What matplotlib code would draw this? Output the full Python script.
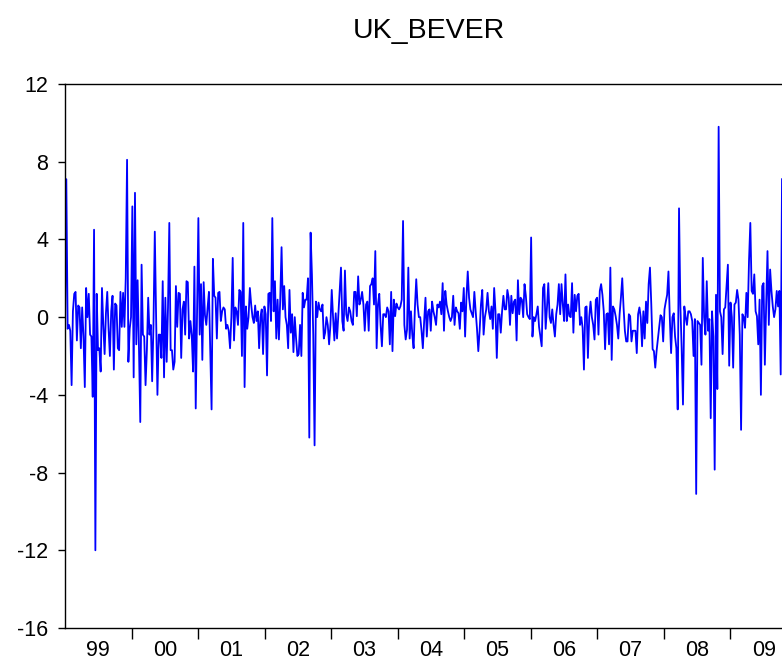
import matplotlib.pyplot as plt
import numpy as np

# weekly UK_BEVER series, Jan 1999 - Oct 2009
uk_bever = [
    -0.5, 7.1, -0.6, -0.4, -0.7, -3.5, 0.3, 1.2, 1.3, -1.2,
    0.6, 0.5, -1.6, 0.5, -1.0, -3.6, 1.5, 0.0, 1.2, -0.9,
    -1.0, -4.1, 4.5, -12.0, 1.2, -1.7, -1.6, -2.8, 1.5, -0.4,
    -1.9, 0.2, 1.3, -0.6, -2.0, 0.3, 1.1, -2.7, 0.7, 0.6,
    -1.6, -1.7, 1.3, -0.5,
    1.25, -0.5, 2.0, 8.1, -2.3, -0.6, 0.0, 5.7, -3.1, 6.4,
    -1.4, 1.9, -1.5, -5.4, 2.7, -0.9, -1.0, -3.5, -1.7, 1.0,
    -0.9, -0.4, -3.3, -0.4, 4.4, 0.0, -4.0, -0.9, -0.9, -2.1,
    1.85, -3.1, 1.0, -2.3, 0.5, 4.85, -1.7, -1.7, -2.7, -2.3,
    1.6, -0.5, 1.25, 1.2, -2.1, 0.4,
    0.8, -0.9, 1.85, 1.8, -1.1, -0.2, -0.95, -2.8, 2.6, -4.7,
    0.1, 5.1, -0.9, 1.7, -2.2, 1.8, 0.1, -0.4, 0.5, 1.3,
    -1.7, -4.75, 3.0, 1.1, 1.0, -1.1, 1.25, 1.3, -0.2, 0.3,
    0.5, 0.4, -0.6, -0.4, -0.7, -1.6, 0.0, 3.05, -1.2, 0.5,
    0.3, -0.4, 1.4, 1.3, -2.0,
    4.85, -3.6, 0.55, -0.6, 0.0, 1.5, 0.65, 0.0, -0.3, 0.6,
    -0.2, 0.3, -1.6, 0.0, 0.4, -1.9, 0.55, 0.15, -3.0, 1.2,
    1.25, -0.2, 5.1, 0.3, 1.85, -1.1, 0.9, -1.15, 0.9, 3.6,
    0.4, 1.6, 0.0, -0.4, -1.6, 1.4, -0.8, 0.15, -1.8, 0.0,
    -1.1, -2.0, -1.9, -0.4, -2.0,
    1.25, 0.5, 0.9, 0.9, 2.0, -6.2, 4.35, 2.2, -0.9, -6.6,
    0.8, 0.0, 0.75, 0.4, 0.3, 0.65, -1.1, -0.8, 0.0, -0.4,
    -1.4, -0.4, 1.4, 0.0, -1.2, 0.2, -1.1, 0.15, 1.3, 2.55,
    -0.2, -0.7, 2.4, 0.15, -0.2, 0.5, 0.3, -0.2, -0.4, 1.3,
    1.3, 0.05, 2.1, 0.65, 0.9, 1.3,
    0.65, -0.7, 0.65, 0.8, -0.7, 1.6, 1.7, 2.0, 0.65, 3.4,
    -1.6, 0.65, 1.2, -0.4, -1.5, 0.15, 0.15, 0.0, 0.5, 0.3,
    -1.4, 1.3, -1.75, 0.9, 0.05, 0.7, 0.5, 0.4, 0.55, 0.9,
    4.95, -0.4, -1.15, -0.65, 2.55, -1.1, 0.3, -0.9, -1.6, 0.5,
    1.95, 0.65, 0.0, 0.0, -0.7,
    -1.6, -0.2, 1.0, -1.0, 0.3, 0.4, -0.7, 0.8, 0.3, 0.0,
    -0.4, 0.65, 0.5, 0.8, 0.15, 1.75, -0.7, 1.35, 0.65, 0.3,
    0.0, -0.2, 0.0, 1.1, -0.4, 0.5, 0.3, 0.2, -0.6, 0.75,
    0.3, 1.5, -1.0, 1.0, 2.35, 1.0, 0.4, 0.2, 0.0, 1.3,
    0.3, -0.6, -1.75, -0.7, 0.65,
    1.4, -0.9, 0.0, 0.4, 1.25, 0.3, -0.1, 0.55, -0.6, 1.5,
    0.3, -2.1, 0.15, 0.15, -0.8, 0.3, 1.1, 0.4, 0.4, 1.4,
    1.0, -0.4, 1.1, 0.2, 0.8, 0.9, -1.2, 1.9, 0.15, 1.0,
    0.9, 0.0, 1.7, 1.1, 0.15, 0.0, -0.1, 4.1, -1.0, 0.0,
    -0.2, 0.15, 0.55, -0.5, -1.0,
    -1.5, 1.5, 1.7, -0.6, 0.5, 1.75, 0.0, -0.3, 0.4, -0.4,
    -1.0, 0.15, 0.65, 1.7, 0.15, 1.7, 0.65, -0.2, 2.2, -0.2,
    0.65, 0.05, 0.0, 1.75, -0.8, 1.15, 0.3, 1.1, 1.2, -0.4,
    0.0, -0.55, -2.7, 0.5, 0.55, -2.1, 0.0, 0.8, 0.0, -0.4,
    -1.15, 0.9, 1.0, -0.9, 1.35,
    1.7, 1.15, 0.3, -1.65, 0.15, 0.2, -1.4, 2.55, -2.2, 0.55,
    0.4, 0.05, -0.4, -1.1, 0.15, 1.0, 2.0, 0.5, -0.7, -1.25,
    -1.25, 0.15, 0.05, -1.25, -0.7, -0.7, -0.7, -1.85, 0.15, 0.5,
    0.0, -1.5, 0.3, -1.1, 0.8, -0.3, 1.7, 2.55, 0.65, -1.65,
    -1.75, -2.6, -1.75, -1.1, -0.5,
    0.1, 0.0, -1.25, 0.4, 0.8, 1.15, 2.35, 0.0, -1.85, 0.0,
    0.2, -1.0, -1.6, -4.75, 5.6, 0.65, -1.6, -4.5, 0.55, 0.0,
    -0.4, 0.3, 0.3, 0.15, -0.2, -2.0, -0.1, -9.1, -0.2, -0.3,
    -0.4, -2.45, 3.05, 0.0, -0.9, 1.85, -0.7, -0.1, -5.2, 0.3,
    -1.0, -7.85, 1.15, -3.7, 9.8, 0.3, 0.0,
    -1.9, 0.4, 0.5, 1.6, 2.7, -2.5, 0.75, 0.0, -2.6, 0.65,
    0.75, 1.4, 0.9, -0.9, -5.8, 0.15, 0.0, -0.55, 1.25, 0.0,
    2.9, 4.85, 1.35, 1.2, 2.2, 0.3, 0.05, -1.4, 0.9, -4.0,
    1.6, 1.75, -2.45, 0.65, 3.4, -0.4, 2.45, 1.35, 0.55, 0.0,
    0.4, 1.35, 0.55, 1.35, -2.95, 7.1,
]

first_year = 1999.0
last_obs = 2009.775
year_labels = ['99', '00', '01', '02', '03', '04', '05', '06', '07', '08', '09']
y_ticks = [12, 8, 4, 0, -4, -8, -12, -16]

t = np.linspace(first_year, last_obs, len(uk_bever))

plt.rcParams['font.family'] = ['Liberation Sans', 'DejaVu Sans']

fig = plt.figure(figsize=(7.82, 6.71), dpi=100)
ax = fig.add_axes([65 / 782, 1 - 628 / 671, 727 / 782, 544 / 671])

ax.plot(t, uk_bever, color='#0000ff', linewidth=1.3)

ax.set_xlim(first_year, 2009.925)
ax.set_ylim(-16, 12)

# year boundaries get the tick marks, labels sit mid-year
ax.set_xticks(np.arange(2000, 2010))
ax.set_xticklabels([])
ax.set_xticks([first_year + i + 0.5 for i in range(len(year_labels))], minor=True)
ax.set_xticklabels(year_labels, minor=True)
ax.tick_params(axis='x', which='major', direction='out', length=8, width=1)
ax.tick_params(axis='x', which='minor', length=0, pad=9, labelsize=15.5)

ax.set_yticks(y_ticks)
ax.set_yticklabels([str(v) for v in y_ticks])
ax.tick_params(axis='y', direction='out', length=5, width=1, labelsize=15.5, pad=7)

for s in ax.spines.values():
    s.set_linewidth(1.0)
    s.set_color('black')

ax.set_title('UK_BEVER', fontsize=20.5, pad=33)

fig.savefig('out.png', dpi=100)
